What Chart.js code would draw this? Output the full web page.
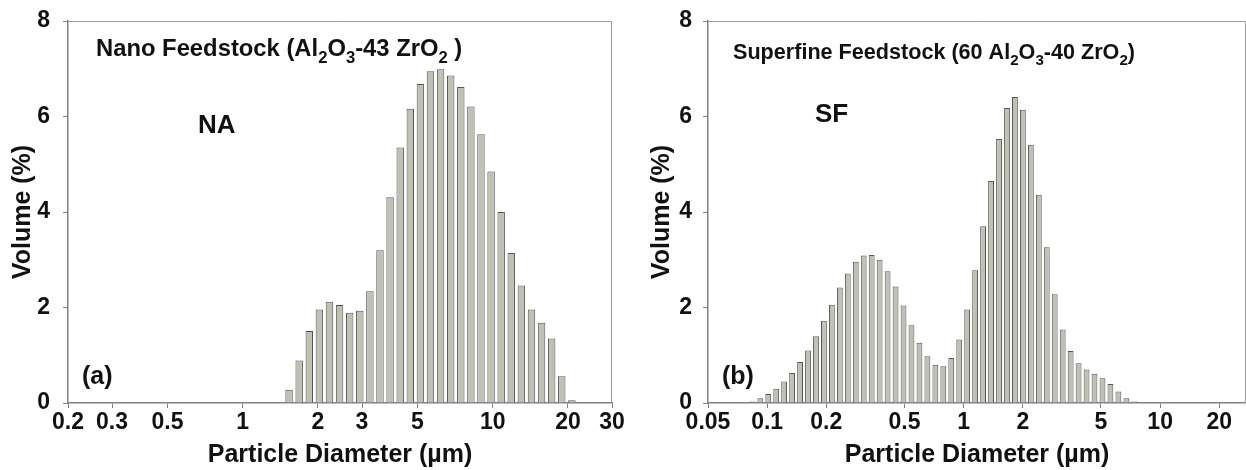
<!DOCTYPE html>
<html>
<head>
<meta charset="utf-8">
<script src="https://cdn.jsdelivr.net/npm/chart.js@4.4.1/dist/chart.umd.min.js"></script>
<style>
    html, body { margin: 0; padding: 0; background: #fff; }
    #wrap { position: relative; width: 1246px; height: 470px; overflow: hidden; }
    canvas { position: absolute; top: 0; }
</style>
</head>
<body>
<div id="wrap">
    <canvas id="chartNA" width="636" height="470" style="left:0px"></canvas>
    <canvas id="chartSF" width="610" height="470" style="left:636px"></canvas>
</div>
<script>
// bin centres (um) and volume (%)
var naSizes = [1.396, 1.532, 1.682, 1.846, 2.026, 2.223, 2.440, 2.678, 2.939, 3.226,
               3.540, 3.885, 4.265, 4.680, 5.137, 5.636, 6.186, 6.790, 7.452, 8.178,
               8.974, 9.849, 10.81, 11.86, 13.02, 14.29, 15.68, 17.21, 18.89, 20.73];
var naVolume = [0.02, 0.28, 0.89, 1.51, 1.96, 2.12, 2.05, 1.89, 1.93, 2.34,
                3.20, 4.31, 5.35, 6.16, 6.68, 6.95, 6.99, 6.86, 6.62, 6.21,
                5.63, 4.85, 4.00, 3.14, 2.46, 1.96, 1.68, 1.35, 0.56, 0.06];

var sfSizes = [0.0766, 0.0840, 0.0923, 0.1013, 0.1112, 0.1220, 0.1340, 0.1471, 0.1614, 0.1772,
               0.1945, 0.2135, 0.2344, 0.2573, 0.2825, 0.3101, 0.3404, 0.3736, 0.4102, 0.4503,
               0.4943, 0.5426, 0.5957, 0.6539, 0.7178, 0.7880, 0.8650, 0.9495, 1.042, 1.144,
               1.256, 1.379, 1.514, 1.662, 1.824, 2.002, 2.198, 2.413, 2.648, 2.907,
               3.192, 3.504, 3.846, 4.222, 4.634, 5.088, 5.585, 6.131, 6.730, 7.388];
var sfVolume = [0.01, 0.03, 0.10, 0.19, 0.30, 0.45, 0.63, 0.86, 1.10, 1.40,
                1.72, 2.06, 2.42, 2.71, 2.96, 3.09, 3.10, 3.00, 2.76, 2.44,
                2.04, 1.63, 1.26, 0.98, 0.80, 0.77, 0.94, 1.33, 1.96, 2.78,
                3.70, 4.65, 5.53, 6.18, 6.41, 6.14, 5.41, 4.36, 3.26, 2.28,
                1.54, 1.09, 0.83, 0.70, 0.61, 0.52, 0.40, 0.24, 0.10, 0.03];

var naTicks = [0.2, 0.3, 0.5, 1, 2, 3, 5, 10, 20, 30];
var sfTicks = [0.05, 0.1, 0.2, 0.5, 1, 2, 5, 10, 20];
var yTicks = [0, 2, 4, 6, 8];

var FONT = '"Liberation Sans", Arial, Helvetica, sans-serif';
var INK = '#111111';
var AXIS = '#808080';

function drawRich(ctx, lab) {
    var x = lab.x;
    ctx.fillStyle = INK;
    ctx.textBaseline = 'alphabetic';
    ctx.textAlign = 'left';
    lab.parts.forEach(function (p) {
        var isSub = typeof p !== 'string';
        var size = isSub ? lab.size * 0.7 : lab.size;
        var t = isSub ? p.sub : p;
        ctx.font = 'bold ' + size + 'px ' + FONT;
        ctx.fillText(t, x, lab.y + (isSub ? lab.size * 0.28 : 0));
        x += ctx.measureText(t).width;
    });
}

// grey frame on top/right plus the text inside the plot
function decor(labels) {
    return {
        id: 'decor',
        afterDraw: function (chart) {
            var ctx = chart.ctx, a = chart.chartArea;
            ctx.save();
            ctx.strokeStyle = '#9a9a9a';
            ctx.lineWidth = 1;
            ctx.beginPath();
            ctx.moveTo(a.left, a.top + 0.5);
            ctx.lineTo(a.right - 0.5, a.top + 0.5);
            ctx.lineTo(a.right - 0.5, a.bottom);
            ctx.stroke();
            labels.forEach(function (lab) { drawRich(ctx, lab); });
            ctx.restore();
        }
    };
}

function makePanel(id, sizes, volume, ticks, xMin, xMax, yAxisWidth, yLabelPad, yTitlePad, rightPad, labels) {
    var points = sizes.map(function (d, i) { return {x: d, y: volume[i]}; });
    var ctx = document.getElementById(id).getContext('2d');
    return new Chart(ctx, {
        type: 'bar',
        data: {
            datasets: [{
                data: points,
                backgroundColor: '#c0c0b4',
                borderColor: '#555555',
                borderWidth: 1,
                categoryPercentage: 1,
                barPercentage: 0.74
            }]
        },
        options: {
            responsive: false,
            animation: false,
            layout: { padding: { left: 0, right: rightPad, top: 21, bottom: 0 } },
            plugins: { legend: { display: false }, tooltip: { enabled: false } },
            scales: {
                x: {
                    type: 'logarithmic',
                    min: xMin,
                    max: xMax,
                    offset: false,
                    grid: { offset: false, drawOnChartArea: false, drawTicks: true, tickLength: 5, color: AXIS },
                    border: { display: true, color: AXIS, width: 1.5 },
                    afterBuildTicks: function (scale) {
                        scale.ticks = ticks.map(function (v) { return {value: v}; });
                    },
                    afterFit: function (scale) {
                        scale.height = 67;
                        scale.paddingLeft = 0;
                        scale.paddingRight = 0;
                    },
                    ticks: {
                        autoSkip: false,
                        maxRotation: 0,
                        padding: 1,
                        color: INK,
                        font: { family: FONT, size: 23, weight: 'bold' },
                        callback: function (v) { return String(v); }
                    },
                    title: {
                        display: true,
                        text: 'Particle Diameter (\u00b5m)',
                        color: INK,
                        padding: 0,
                        font: { family: FONT, size: 25, weight: 'bold' }
                    }
                },
                y: {
                    min: 0,
                    max: 8,
                    grid: { drawOnChartArea: false, drawTicks: true, tickLength: 5, color: AXIS },
                    border: { display: true, color: AXIS, width: 1.5 },
                    afterBuildTicks: function (scale) {
                        scale.ticks = yTicks.map(function (v) { return {value: v}; });
                    },
                    afterFit: function (scale) {
                        scale.width = yAxisWidth;
                        scale.paddingTop = 0;
                        scale.paddingBottom = 0;
                    },
                    ticks: {
                        padding: yLabelPad,
                        color: INK,
                        font: { family: FONT, size: 23, weight: 'bold' }
                    },
                    title: {
                        display: true,
                        text: 'Volume (%)',
                        color: INK,
                        padding: { top: yTitlePad, bottom: 0 },
                        font: { family: FONT, size: 25, weight: 'bold' }
                    }
                }
            }
        },
        plugins: [decor(labels)]
    });
}

document.addEventListener("DOMContentLoaded", function () {
    makePanel('chartNA', naSizes, naVolume, naTicks, 0.2, 30, 68, 13, 8.6, 24, [
        { x: 96, y: 56, size: 23.8, parts: ['Nano Feedstock (Al', {sub: '2'}, 'O', {sub: '3'}, '-43 ZrO', {sub: '2'}, ' )'] },
        { x: 198, y: 133, size: 26, parts: ['NA'] },
        { x: 82, y: 384, size: 25, parts: ['(a)'] }
    ]);

    makePanel('chartSF', sfSizes, sfVolume, sfTicks, 0.05, 27.35, 72, 11, 11.6, 0, [
        { x: 97, y: 59, size: 21.6, parts: ['Superfine Feedstock (60 Al', {sub: '2'}, 'O', {sub: '3'}, '-40 ZrO', {sub: '2'}, ')'] },
        { x: 179, y: 122, size: 26, parts: ['SF'] },
        { x: 86, y: 384, size: 25, parts: ['(b)'] }
    ]);
});
</script>
</body>
</html>
